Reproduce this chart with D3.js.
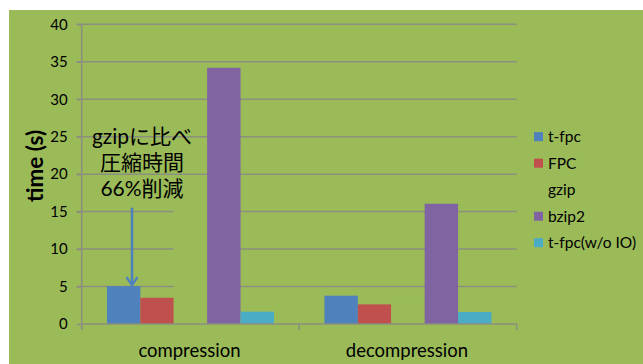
<!DOCTYPE html>
<html><head><meta charset="utf-8">
<script src="https://cdn.jsdelivr.net/npm/d3@7"></script>
<style>body{margin:0;background:#fff;} svg{display:block;}</style>
</head><body>
<svg id="c" width="643" height="364"></svg>
<script>
const categories = ["compression", "decompression"];
const seriesNames = ["t-fpc", "FPC", "gzip", "bzip2", "t-fpc(w/o IO)"];
const seriesColors = ["#4F81BD", "#C0504D", "#9BBB59", "#8064A2", "#4BACC6"];
const tfpc = [5.05, 3.78];
const fpc = [3.5, 2.62];
const gzip = [15.3, 3.2];
const bzip2 = [34.2, 16.05];
const tfpcNoIO = [1.65, 1.6];
const yTicks = [0, 5, 10, 15, 20, 25, 30, 35, 40];
const annotationLines = ["gzipに比べ", "圧縮時間", "66%削減"];

const values = [tfpc, fpc, gzip, bzip2, tfpcNoIO];
const svg = d3.select("#c");
const font = "Lato, 'Noto Sans CJK JP', sans-serif";

svg.append("rect").attr("x", 9).attr("y", 10).attr("width", 634).attr("height", 354).attr("fill", "#9BBB59");

const x0 = d3.scaleBand().domain(categories).range([81.7, 516.7]).padding(0);
const x1 = d3.scaleBand().domain(seriesNames).range([0, x0.bandwidth()]).paddingInner(0).paddingOuter(0.756);
const y = d3.scaleLinear().domain([0, 40]).range([324, 24.3]);

// gridlines
svg.append("g").selectAll("line").data(yTicks.filter(d => d > 0)).join("line")
  .attr("x1", 76.7).attr("x2", 516.7).attr("y1", d => y(d)).attr("y2", d => y(d))
  .attr("stroke", "#8a8f7e").attr("stroke-width", 1.5);

// bars
const groups = svg.append("g").selectAll("g").data(categories).join("g")
  .attr("transform", c => `translate(${x0(c)},0)`);
groups.selectAll("rect").data((c, ci) => seriesNames.map((s, si) => ({s, si, v: values[si][ci]}))).join("rect")
  .attr("x", d => x1(d.s)).attr("width", x1.bandwidth())
  .attr("y", d => y(d.v)).attr("height", d => y(0) - y(d.v))
  .attr("fill", d => seriesColors[d.si]);

// axes
const yAxis = svg.append("g").attr("transform", "translate(81.7,0)")
  .call(d3.axisLeft(y).tickValues(yTicks).tickSize(5).tickPadding(9));
yAxis.select(".domain").remove();
yAxis.selectAll(".tick line").attr("stroke", "#8a8f7e").attr("stroke-width", 1.5);
yAxis.selectAll("text").attr("font-family", font).attr("font-size", 15).attr("fill", "#000");
svg.append("line").attr("x1", 81.7).attr("x2", 81.7).attr("y1", 24.3).attr("y2", 330)
  .attr("stroke", "#8a8f7e").attr("stroke-width", 1.5);

const xAxis = svg.append("g").attr("transform", "translate(0,324)");
xAxis.append("line").attr("x1", 81.7).attr("x2", 516.7).attr("y1", 0).attr("y2", 0)
  .attr("stroke", "#8a8f7e").attr("stroke-width", 1.5);
const tickXs = [x0.range()[0], x0(categories[1]), x0.range()[1]];
xAxis.selectAll("line.t").data(tickXs).join("line").attr("class", "t")
  .attr("x1", d => d).attr("x2", d => d).attr("y1", 0).attr("y2", 6)
  .attr("stroke", "#8a8f7e").attr("stroke-width", 1.5);
xAxis.selectAll("text").data(categories).join("text")
  .attr("x", c => x0(c) + x0.bandwidth() / 2 - 1).attr("y", 33)
  .attr("text-anchor", "middle").attr("font-family", font).attr("font-size", 18.5).text(c => c);

// y title
svg.append("text").attr("transform", "translate(43,166) rotate(-90)")
  .attr("text-anchor", "middle").attr("font-family", font).attr("font-weight", "bold")
  .attr("font-size", 22.5).text("time (s)");

// legend
const leg = svg.append("g").selectAll("g").data(seriesNames).join("g")
  .attr("transform", (d, i) => `translate(534,${136.7 + i * 26.5})`);
leg.append("rect").attr("x", 0).attr("y", -4.5).attr("width", 9).attr("height", 9)
  .attr("fill", (d, i) => seriesColors[i]);
leg.append("text").attr("x", 14).attr("y", 5.5).attr("font-family", font).attr("font-size", 15.5).text(d => d);

// annotation
const ann = svg.append("g");
ann.selectAll("text").data(annotationLines).join("text")
  .attr("x", 142).attr("y", (d, i) => 144 + i * 26)
  .attr("text-anchor", "middle").attr("font-family", font).attr("font-size", 21).text(d => d);
const ax = x0(categories[0]) + x1("t-fpc") + x1.bandwidth() * 0.75;
const tipY = y(tfpc[0]) - 1;
ann.append("line").attr("x1", ax).attr("x2", ax).attr("y1", 207.7).attr("y2", tipY)
  .attr("stroke", "#4F81BD").attr("stroke-width", 2.5);
ann.append("path").attr("d", `M${ax - 5.5},${tipY - 8}L${ax},${tipY}L${ax + 5.5},${tipY - 8}`)
  .attr("fill", "none").attr("stroke", "#4F81BD").attr("stroke-width", 2.5);
</script>
</body></html>
